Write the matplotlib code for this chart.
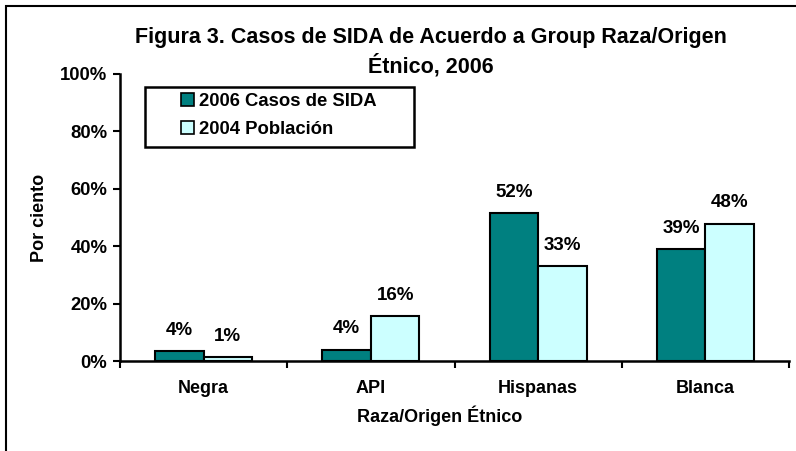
import matplotlib
matplotlib.use("Agg")
import matplotlib.pyplot as plt
from matplotlib.patches import Rectangle, Patch
import numpy as np

categories = ["Negra", "API", "Hispanas", "Blanca"]
casos_2006 = [3.5, 4.0, 51.5, 39.0]
poblacion_2004 = [1.3, 15.6, 33.0, 47.8]
labels_2006 = ["4%", "4%", "52%", "39%"]
labels_2004 = ["1%", "16%", "33%", "48%"]
yticks = [0, 20, 40, 60, 80, 100]
ytick_labels = ["0%", "20%", "40%", "60%", "80%", "100%"]
series_names = ["2006 Casos de SIDA", "2004 Población"]

plt.rcParams['font.family'] = ['Liberation Sans', 'DejaVu Sans']
plt.rcParams['font.weight'] = 'bold'

W, H = 796, 451
fig = plt.figure(figsize=(W/100, H/100), dpi=100)

# outer chart border (cropped at right and bottom)
fig.patches.append(Rectangle((6/W, -0.1), 1.2, 1 - 6/H + 0.1, transform=fig.transFigure,
                             fill=False, edgecolor='black', linewidth=1.5))

ax = fig.add_axes([120/W, 90/H, 669/W, 287/H])
x = np.arange(len(categories))
w = 0.29
c1, c2 = '#008080', '#CCFFFF'
b1 = ax.bar(x - w/2, casos_2006, w, color=c1, edgecolor='black', linewidth=1.5)
b2 = ax.bar(x + w/2, poblacion_2004, w, color=c2, edgecolor='black', linewidth=1.5)

for rects, labs in ((b1, labels_2006), (b2, labels_2004)):
    for r, lab in zip(rects, labs):
        ax.annotate(lab, (r.get_x() + r.get_width()/2, r.get_height()),
                    xytext=(0, 15), textcoords='offset points',
                    ha='center', va='center', fontsize=13.5, fontweight='bold')

ax.set_xlim(-0.5, len(categories) - 0.5)
ax.set_ylim(0, 100)
ax.set_yticks(yticks)
ax.set_yticklabels(ytick_labels, fontsize=13.3, fontweight='bold')
ax.set_xticks(x)
ax.set_xticklabels(categories, fontsize=13, fontweight='bold')
ax.tick_params(axis='x', which='major', length=0, pad=14)
ax.set_xticks(np.arange(-0.5, len(categories), 1.0), minor=True)
ax.tick_params(axis='x', which='minor', length=5, width=1.5, direction='out')
ax.tick_params(axis='y', length=5, width=1.5, direction='out', pad=4)

for s in ('top', 'right'):
    ax.spines[s].set_visible(False)
for s in ('left', 'bottom'):
    ax.spines[s].set_linewidth(1.8)

fig.text(40/W, 1 - 218/H, "Por ciento", rotation=90, ha='center', va='center',
         fontsize=13, fontweight='bold')
fig.text(440/W, 1 - 416/H, "Raza/Origen Étnico", ha='center', va='center',
         fontsize=13, fontweight='bold')
fig.text(431/W, 1 - 52/H, "Figura 3. Casos de SIDA de Acuerdo a Group Raza/Origen\nÉtnico, 2006",
         ha='center', va='center', fontsize=15.5, fontweight='bold', linespacing=1.35)

# legend frame
fig.patches.append(Rectangle((145/W, 1 - 147/H), 269/W, 60/H, transform=fig.transFigure,
                             fill=False, edgecolor='black', linewidth=1.8))
handles = [Patch(facecolor=c1, edgecolor='black', linewidth=1.2),
           Patch(facecolor=c2, edgecolor='black', linewidth=1.2)]
leg = fig.legend(handles, series_names, loc='upper left',
                 bbox_to_anchor=(181/W, 1 - 93/H),
                 prop={'weight': 'bold', 'size': 13.3},
                 handlelength=0.7, handleheight=0.7, handletextpad=0.25,
                 borderpad=0.0, labelspacing=0.6, borderaxespad=0,
                 frameon=False)

fig.savefig("out.png", dpi=100)
